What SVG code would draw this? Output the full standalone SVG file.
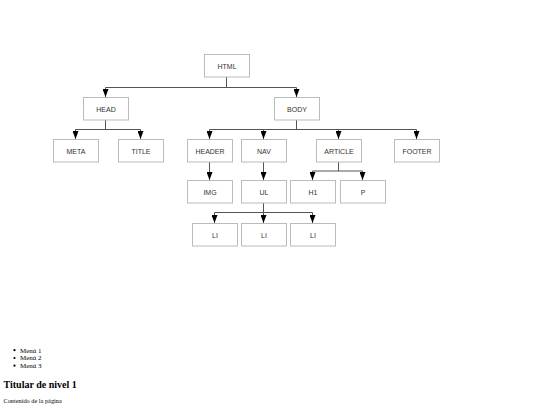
<svg xmlns="http://www.w3.org/2000/svg" width="540" height="405" viewBox="0 0 540 405">
<style>
.box{fill:#fff;stroke:#bbb;stroke-width:1}
.lbl{font-family:"Liberation Sans",Arial,sans-serif;font-size:7px;fill:#333;text-anchor:middle}
.ln{fill:none;stroke:#555;stroke-width:1}
.doc{font-family:"Liberation Serif","Times New Roman",serif;font-size:7px;fill:#000}
</style>
<defs>
<marker id="ar" viewBox="0 0 8 6" refX="8" refY="3" markerWidth="8" markerHeight="6" markerUnits="userSpaceOnUse" orient="auto">
<path d="M0,0 L8,3 L0,6 Z" fill="#000"/>
</marker>
</defs>
<rect width="540" height="405" fill="#fff"/>
<g id="connectors">
<path class="ln" d="M226.5,77 V87.5 M105.5,87.5 H296.5"/>
<path class="ln" d="M105.5,87.5 V97" marker-end="url(#ar)"/>
<path class="ln" d="M296.5,87.5 V97" marker-end="url(#ar)"/>
<path class="ln" d="M105.5,120 V129.5 M75.5,129.5 H140.5"/>
<path class="ln" d="M75.5,129.5 V139" marker-end="url(#ar)"/>
<path class="ln" d="M140.5,129.5 V139" marker-end="url(#ar)"/>
<path class="ln" d="M296.5,120 V129.5 M209.5,129.5 H416.5"/>
<path class="ln" d="M209.5,129.5 V139" marker-end="url(#ar)"/>
<path class="ln" d="M263.5,129.5 V139" marker-end="url(#ar)"/>
<path class="ln" d="M338.5,129.5 V139" marker-end="url(#ar)"/>
<path class="ln" d="M416.5,129.5 V139" marker-end="url(#ar)"/>
<path class="ln" d="M209.5,162 V180" marker-end="url(#ar)"/>
<path class="ln" d="M263.5,162 V180" marker-end="url(#ar)"/>
<path class="ln" d="M338.5,162 V171 M312.5,171 H362.5"/>
<path class="ln" d="M312.5,171 V180" marker-end="url(#ar)"/>
<path class="ln" d="M362.5,171 V180" marker-end="url(#ar)"/>
<path class="ln" d="M263.5,203 V212.5 M214.5,212.5 H312.5"/>
<path class="ln" d="M214.5,212.5 V223" marker-end="url(#ar)"/>
<path class="ln" d="M263.5,212.5 V223" marker-end="url(#ar)"/>
<path class="ln" d="M312.5,212.5 V223" marker-end="url(#ar)"/>
</g>
<g id="html"><rect class="box" x="204.5" y="54.5" width="45" height="22.5"/><text class="lbl" x="227" y="68.5">HTML</text></g>
<g id="head"><rect class="box" x="83.5" y="97.5" width="45" height="22.5"/><text class="lbl" x="106" y="111.5">HEAD</text></g>
<g id="body"><rect class="box" x="274.5" y="97.5" width="45" height="22.5"/><text class="lbl" x="297" y="111.5">BODY</text></g>
<g id="meta"><rect class="box" x="53.5" y="139.5" width="45" height="22.5"/><text class="lbl" x="76" y="153.5">META</text></g>
<g id="title"><rect class="box" x="118.5" y="139.5" width="45" height="22.5"/><text class="lbl" x="141" y="153.5">TITLE</text></g>
<g id="header"><rect class="box" x="187.5" y="139.5" width="45" height="22.5"/><text class="lbl" x="210" y="153.5">HEADER</text></g>
<g id="nav"><rect class="box" x="241.5" y="139.5" width="45" height="22.5"/><text class="lbl" x="264" y="153.5">NAV</text></g>
<g id="article"><rect class="box" x="316.5" y="139.5" width="45" height="22.5"/><text class="lbl" x="339" y="153.5">ARTICLE</text></g>
<g id="footer"><rect class="box" x="394.5" y="139.5" width="45" height="22.5"/><text class="lbl" x="417" y="153.5">FOOTER</text></g>
<g id="img"><rect class="box" x="187.5" y="180.5" width="45" height="22.5"/><text class="lbl" x="210" y="194.5">IMG</text></g>
<g id="ul"><rect class="box" x="241.5" y="180.5" width="45" height="22.5"/><text class="lbl" x="264" y="194.5">UL</text></g>
<g id="h1"><rect class="box" x="290.5" y="180.5" width="45" height="22.5"/><text class="lbl" x="313" y="194.5">H1</text></g>
<g id="p"><rect class="box" x="340.5" y="180.5" width="45" height="22.5"/><text class="lbl" x="363" y="194.5">P</text></g>
<g id="li1"><rect class="box" x="192.5" y="223.5" width="45" height="22.5"/><text class="lbl" x="215" y="237.5">LI</text></g>
<g id="li2"><rect class="box" x="241.5" y="223.5" width="45" height="22.5"/><text class="lbl" x="264" y="237.5">LI</text></g>
<g id="li3"><rect class="box" x="290.5" y="223.5" width="45" height="22.5"/><text class="lbl" x="313" y="237.5">LI</text></g>
<g id="page">
<circle cx="14.5" cy="350.2" r="1.1" fill="#000"/>
<circle cx="14.5" cy="358" r="1.1" fill="#000"/>
<circle cx="14.5" cy="365.7" r="1.1" fill="#000"/>
<text class="doc" x="20" y="352.6">Menú 1</text>
<text class="doc" x="20" y="360.4">Menú 2</text>
<text class="doc" x="20" y="368.1">Menú 3</text>
<text class="doc" x="3.5" y="388" style="font-size:10px;font-weight:bold">Titular de nivel 1</text>
<text class="doc" x="3.5" y="403" style="font-size:6.3px">Contenido de la página</text>
</g>
</svg>
